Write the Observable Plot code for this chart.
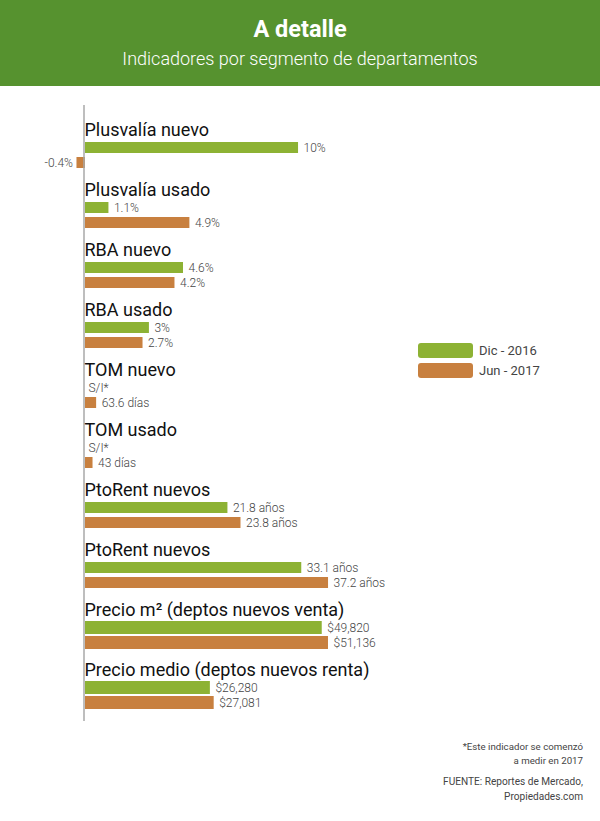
<!DOCTYPE html>
<html>
<head>
<meta charset="utf-8">
<script src="https://cdn.jsdelivr.net/npm/d3@7"></script>
<script src="https://cdn.jsdelivr.net/npm/@observablehq/plot@0.6"></script>
<style>
  html, body { margin: 0; padding: 0; background: #fff; }
  body { width: 600px; height: 821px; position: relative; font-family: Roboto, "Noto Sans", sans-serif; overflow: hidden; }
  #header { height: 86px; background: #56922f; color: #fff; text-align: center; }
  #header h1 { margin: 0; padding-top: 15px; font-size: 23.5px; font-weight: 700; line-height: 28px; }
  #header h2 { margin: 0; padding-top: 5px; font-size: 18px; font-weight: 300; line-height: 22px; }
  #chart svg { display: block; }
  #legend { position: absolute; left: 418px; top: 343px; font-size: 13px; color: #444; }
  #legend .item { display: flex; align-items: center; height: 15px; margin-bottom: 5px; }
  #legend .sw { width: 55px; height: 15px; border-radius: 3px; margin-right: 6px; }
  #footer { position: absolute; right: 17px; top: 740px; text-align: right; color: #444; }
  #footer p { margin: 0 0 6px 0; font-size: 9.7px; line-height: 14px; }
  #footer p.src { font-size: 10.1px; line-height: 15px; }
</style>
</head>
<body>
<div id="header">
  <h1>A detalle</h1>
  <h2>Indicadores por segmento de departamentos</h2>
</div>
<div id="chart"></div>
<div id="legend"></div>
<div id="footer">
  <p>*Este indicador se comenzó<br>a medir en 2017</p>
  <p class="src">FUENTE: Reportes de Mercado,<br>Propiedades.com</p>
</div>
<script>
// ---- data ----
const groups = [
  "Plusvalía nuevo",
  "Plusvalía usado",
  "RBA nuevo",
  "RBA usado",
  "TOM nuevo",
  "TOM usado",
  "PtoRent nuevos",
  "PtoRent nuevos",
  "Precio m² (deptos nuevos venta)",
  "Precio medio (deptos nuevos renta)"
];
const series = ["Dic - 2016", "Jun - 2017"];
const dic2016 = [10, 1.1, 4.6, 3, null, null, 21.8, 33.1, 49820, 26280];
const jun2017 = [-0.4, 4.9, 4.2, 2.7, 63.6, 43, 23.8, 37.2, 51136, 27081];
const dicLabels = ["10%", "1.1%", "4.6%", "3%", "S/I*", "S/I*", "21.8 años", "33.1 años", "$49,820", "$26,280"];
const junLabels = ["-0.4%", "4.9%", "4.2%", "2.7%", "63.6 días", "43 días", "23.8 años", "37.2 años", "$51,136", "$27,081"];
// each indicator has its own unit: value that spans the full bar length
const groupFullScale = [11.5, 11.5, 11.5, 11.5, 1400, 1400, 37.5, 37.5, 51560, 51560];
const colors = ["#8db234", "#c8803f"];

// ---- build table ----
const rows = groups.flatMap((_, i) => [`${i}-l`, `${i}-d`, `${i}-j`, `${i}-g`]).slice(0, -1);
const labelsData = groups.map((name, i) => ({ name, row: `${i}-l` }));
const bars = groups.flatMap((g, i) => [
  { i, row: `${i}-d`, serie: series[0], value: dic2016[i], label: dicLabels[i] },
  { i, row: `${i}-j`, serie: series[1], value: jun2017[i], label: junLabels[i] }
]);
const present = bars.filter(d => d.value != null);
const missing = bars.filter(d => d.value == null);
const xv = d => d.value / groupFullScale[d.i];
const big = d => d.i >= 8;

const chart = Plot.plot({
  width: 600,
  height: 650,
  marginTop: 19,
  marginBottom: 15,
  marginLeft: 0,
  marginRight: 0,
  style: { fontFamily: "Roboto, 'Noto Sans', sans-serif", background: "transparent" },
  x: { domain: [0, 1], range: [85, 330], axis: null },
  y: { type: "band", domain: rows, range: [38.5, 624.5], paddingInner: 0.3, paddingOuter: 0, axis: null },
  color: { domain: series, range: colors },
  marks: [
    Plot.barX(present.filter(d => !big(d)), { x1: 0, x2: xv, y: "row", fill: "serie" }),
    Plot.barX(present.filter(big), { x1: 0, x2: xv, y: "row", fill: "serie", insetTop: -1, insetBottom: -1 }),
    Plot.ruleX([0], { stroke: "#a8a8a8", strokeWidth: 1.5, dx: -1.5 }),
    Plot.text(labelsData, { x: 0, y: "row", text: "name", textAnchor: "start", dx: -1, dy: -3, fontSize: 18, fill: "#111" }),
    Plot.text(present.filter(d => d.value >= 0), { x: xv, y: "row", text: "label", textAnchor: "start", dx: 5, fontSize: 12, fontWeight: 300, fill: "#444" }),
    Plot.text(present.filter(d => d.value < 0), { x: xv, y: "row", text: "label", textAnchor: "end", dx: -4, fontSize: 12, fontWeight: 300, fill: "#444" }),
    Plot.text(missing, { x: 0, y: "row", text: "label", textAnchor: "start", dx: 3, fontSize: 12, fontWeight: 300, fill: "#444" })
  ]
});
document.getElementById("chart").appendChild(chart);

// legend
const legend = document.getElementById("legend");
series.forEach((s, k) => {
  const item = document.createElement("div");
  item.className = "item";
  const sw = document.createElement("div");
  sw.className = "sw";
  sw.style.background = colors[k];
  const t = document.createElement("span");
  t.textContent = s;
  item.appendChild(sw);
  item.appendChild(t);
  legend.appendChild(item);
});
</script>
</body>
</html>
